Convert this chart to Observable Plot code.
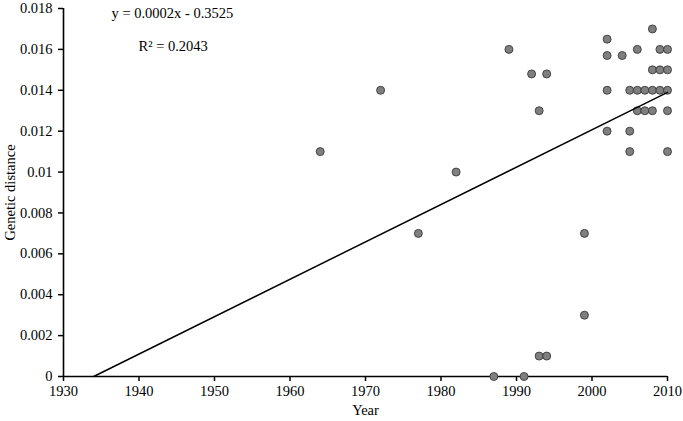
<!DOCTYPE html>
<html>
<head>
<meta charset="utf-8">
<script src="https://cdn.jsdelivr.net/npm/d3@7"></script>
<script src="https://cdn.jsdelivr.net/npm/@observablehq/plot@0.6"></script>
<style>
  html, body { margin: 0; padding: 0; background: #fff; }
  #chart svg { font-family: "Liberation Serif", "Times New Roman", serif !important; font-size: 14.5px !important; }
  #chart svg text { font-family: "Liberation Serif", "Times New Roman", serif !important; font-size: 14.5px !important; fill: #000; }
</style>
</head>
<body>
<div id="chart"></div>
<script>
// Sampling year of each isolate
const years = [
  1964, 1972, 1977, 1982, 1987, 1989, 1991, 1992, 1993, 1993,
  1994, 1994, 1999, 1999, 2002, 2002, 2002, 2002, 2004, 2005,
  2005, 2005, 2006, 2006, 2006, 2007, 2007, 2008, 2008, 2008,
  2008, 2009, 2009, 2009, 2010, 2010, 2010, 2010, 2010
];
// Genetic distance of each isolate
const distances = [
  0.011, 0.014, 0.007, 0.010, 0.000, 0.016, 0.000, 0.0148, 0.013, 0.001,
  0.0148, 0.001, 0.007, 0.003, 0.0165, 0.0157, 0.014, 0.012, 0.0157, 0.014,
  0.012, 0.011, 0.016, 0.014, 0.013, 0.014, 0.013, 0.017, 0.015, 0.014,
  0.013, 0.016, 0.015, 0.014, 0.016, 0.015, 0.014, 0.013, 0.011
];
// Linear trendline (with backward forecast)
const trendYears = [1934, 2010];
const trendValues = [0.0, 0.0139];

const xTicks = [1930, 1940, 1950, 1960, 1970, 1980, 1990, 2000, 2010];
const yTicks = [0, 0.002, 0.004, 0.006, 0.008, 0.01, 0.012, 0.014, 0.016, 0.018];

const equationText = "y = 0.0002x - 0.3525";
const r2Text = "R² = 0.2043";
const xLabel = "Year";
const yLabel = "Genetic distance";

const points = years.map((y, i) => ({year: y, dist: distances[i]}));
const trend = trendYears.map((y, i) => ({year: y, dist: trendValues[i]}));

const chart = Plot.plot({
  width: 683,
  height: 421,
  marginLeft: 63,
  marginRight: 16,
  marginTop: 8,
  marginBottom: 45,
  style: {fontFamily: "Liberation Serif", fontSize: "14.5px", color: "#000", background: "#fff"},
  x: {domain: [1930, 2010]},
  y: {domain: [0, 0.018]},
  marks: [
    Plot.axisX({ticks: xTicks, tickFormat: "d", tickSize: 5, tickPadding: 4, label: null, fontSize: 14.5, stroke: "#000", strokeWidth: 1.5}),
    Plot.axisY({ticks: yTicks, tickFormat: d3.format("~g"), tickSize: 5, tickPadding: 6, label: null, fontSize: 14.5, stroke: "#000", strokeWidth: 1.5}),
    Plot.ruleX([1930], {stroke: "#000", strokeWidth: 1.6}),
    Plot.ruleY([0], {stroke: "#000", strokeWidth: 1.6}),
    Plot.dot(points, {x: "year", y: "dist", r: 4, fill: "#7f7f7f", stroke: "#3a3a3a", strokeWidth: 0.9}),
    Plot.line(trend, {x: "year", y: "dist", stroke: "#000", strokeWidth: 1.5}),
    Plot.text([equationText], {frameAnchor: "top-left", dx: 48, dy: 5, textAnchor: "start", lineAnchor: "middle", fontSize: 14.5, fill: "#000"}),
    Plot.text([r2Text], {frameAnchor: "top-left", dx: 75, dy: 38, textAnchor: "start", lineAnchor: "middle", fontSize: 14.5, fill: "#000"}),
    Plot.text([xLabel], {frameAnchor: "bottom", dy: 34, textAnchor: "middle", lineAnchor: "middle", fontSize: 14.5, fill: "#000"}),
    Plot.text([yLabel], {frameAnchor: "left", dx: -53, rotate: -90, textAnchor: "middle", lineAnchor: "middle", fontSize: 14.5, fill: "#000"})
  ]
});
document.getElementById("chart").appendChild(chart);
</script>
</body>
</html>
